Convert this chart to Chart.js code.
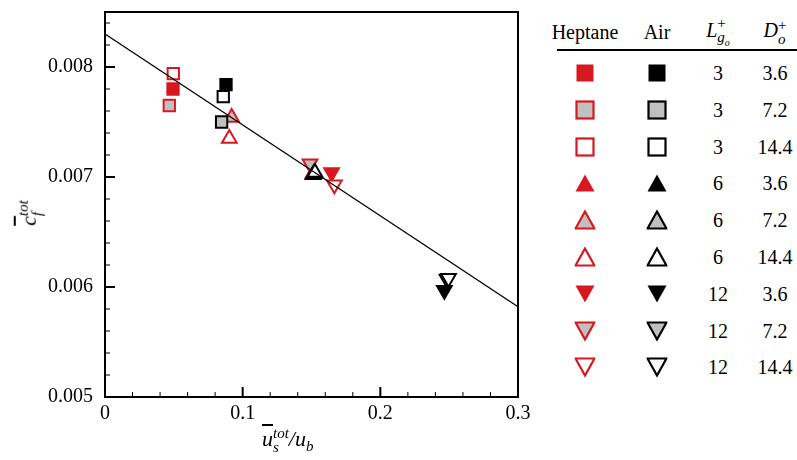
<!DOCTYPE html>
<html>
<head>
<meta charset="utf-8">
<script src="https://cdn.jsdelivr.net/npm/chart.js@4.4.0/dist/chart.umd.min.js"></script>
<style>
  html, body { margin: 0; padding: 0; background: #fff; }
  body { width: 797px; height: 460px; position: relative; overflow: hidden;
         font-family: "Liberation Serif", "Times New Roman", Tinos, "DejaVu Serif", serif; color: #000; }
  #wrap { position: absolute; left: 0; top: 0; width: 540px; height: 460px; }
  .title { position: absolute; font-size: 22px; font-style: italic; white-space: nowrap; }
  .ov { text-decoration: overline; }
  .stack { display: inline-block; vertical-align: middle; line-height: 0.9; font-size: 15px; }
  .stack span { display: block; }
  .cell { position: absolute; transform: translate(-50%, -50%); font-size: 20px; white-space: nowrap; }
  #rule { position: absolute; left: 557px; top: 49px; width: 240px; height: 2px; background: #000; }
</style>
</head>
<body>
<div id="wrap"><canvas id="chart" width="540" height="460"></canvas></div>

<div class="title" style="left:262px; top:426px;">
  <span class="ov">u</span><span class="stack"><span>tot</span><span>s</span></span>/u<sub style="font-size:15px">b</sub>
</div>
<div class="title" style="left:30px; top:213px; transform: translate(-50%,-50%) rotate(-90deg);">
  <span class="ov">c</span><span class="stack"><span>tot</span><span>f</span></span>
</div>

<div id="legend"></div>
<div id="rule"></div>

<script>
// plot data
const heptaneX = [0.0494, 0.0467, 0.0496, 0.151, 0.092, 0.0903, 0.1646, 0.1489, 0.1666];
const heptaneY = [0.00780, 0.00765, 0.00794, 0.00703, 0.00754, 0.00735, 0.00704, 0.00712, 0.00693];
const airX = [0.0879, 0.0847, 0.0859, 0.1512, 0.1518, 0.1525, 0.2465, 0.2485, 0.2495];
const airY = [0.00784, 0.00750, 0.00773, 0.00702, 0.00703, 0.00704, 0.00597, 0.00607, 0.00608];
const fitX = [0, 0.3];
const fitY = [0.0083, 0.00582];

// marker table
const lgoVals = ["3", "3", "3", "6", "6", "6", "12", "12", "12"];
const doVals = ["3.6", "7.2", "14.4", "3.6", "7.2", "14.4", "3.6", "7.2", "14.4"];
const shapes = ["rect", "rect", "rect", "up", "up", "up", "down", "down", "down"];
const fills = ["solid", "gray", "open", "solid", "gray", "open", "solid", "gray", "open"];

const xTicks = [0, 0.1, 0.2, 0.3];
const yTicks = [0.005, 0.006, 0.007, 0.008];
const xLabels = ["0", "0.1", "0.2", "0.3"];
const yLabels = ["0.005", "0.006", "0.007", "0.008"];

const RED = "#d7191f";
const GRAY = "#c0c0c0";
const SERIF = "'Liberation Serif', 'Times New Roman', Tinos, 'DejaVu Serif', serif";

function fillFor(kind, col) {
    if (kind === "solid") return col;
    if (kind === "gray") return GRAY;
    return "#ffffff";
}

function pts(xs, ys) {
    return xs.map((x, i) => ({ x, y: ys[i] }));
}

function markerDataset(label, xs, ys, col, order) {
    return {
        label,
        type: "scatter",
        data: pts(xs, ys),
        order,
        pointStyle: shapes.map((s) => (s === "rect" ? "rect" : "triangle")),
        rotation: shapes.map((s) => (s === "down" ? 180 : 0)),
        radius: shapes.map((s) => (s === "rect" ? 8 : 8.5)),
        pointBackgroundColor: fills.map((f) => fillFor(f, col)),
        pointBorderColor: col,
        pointBorderWidth: 2,
        pointHoverRadius: 8.5,
    };
}

// frame + inward ticks
const framePlugin = {
    id: "frame",
    afterDatasetsDraw(chart) {
        const { ctx, chartArea: a, scales } = chart;
        ctx.save();
        ctx.strokeStyle = "#000";
        const xs = scales.x, ys = scales.y;
        for (let i = 0; i <= 15; i++) {
            const px = xs.getPixelForValue(i * 0.02);
            const major = i % 5 === 0;
            ctx.lineWidth = major ? 2 : 1;
            ctx.beginPath();
            ctx.moveTo(px, a.bottom);
            ctx.lineTo(px, a.bottom - (major ? 10 : 5));
            ctx.stroke();
        }
        for (let i = 0; i <= 17; i++) {
            const py = ys.getPixelForValue(0.005 + i * 0.0002);
            const major = i % 5 === 0;
            ctx.lineWidth = major ? 2 : 1;
            ctx.beginPath();
            ctx.moveTo(a.left, py);
            ctx.lineTo(a.left + (major ? 10 : 5), py);
            ctx.stroke();
        }
        ctx.lineWidth = 2;
        ctx.strokeRect(a.left, a.top, a.right - a.left, a.bottom - a.top);
        ctx.restore();
    },
};

const ctx = document.getElementById("chart").getContext("2d");
new Chart(ctx, {
    data: {
        datasets: [
            markerDataset("Air", airX, airY, "#000000", 1),
            markerDataset("Heptane", heptaneX, heptaneY, RED, 2),
            {
                label: "fit",
                type: "line",
                data: pts(fitX, fitY),
                borderColor: "#000",
                borderWidth: 1.3,
                pointRadius: 0,
                fill: false,
                order: 0,
            },
        ],
    },
    options: {
        responsive: false,
        animation: false,
        layout: { padding: { top: 12, right: 22, left: 0, bottom: 0 } },
        plugins: { legend: { display: false }, tooltip: { enabled: false } },
        scales: {
            x: {
                type: "linear",
                min: 0,
                max: 0.3,
                afterBuildTicks: (s) => { s.ticks = xTicks.map((v) => ({ value: v })); },
                afterFit: (s) => { s.height = 63; s.paddingLeft = 0; s.paddingRight = 0; },
                grid: { display: false, drawTicks: false },
                border: { display: false },
                ticks: {
                    color: "#000",
                    padding: 5,
                    maxRotation: 0,
                    font: { family: SERIF, size: 20 },
                    callback: (v) => xLabels[xTicks.indexOf(v)] ?? "",
                },
            },
            y: {
                type: "linear",
                min: 0.005,
                max: 0.0085,
                afterBuildTicks: (s) => { s.ticks = yTicks.map((v) => ({ value: v })); },
                afterFit: (s) => { s.width = 105; s.paddingTop = 0; s.paddingBottom = 0; },
                grid: { display: false, drawTicks: false },
                border: { display: false },
                ticks: {
                    color: "#000",
                    padding: 12,
                    font: { family: SERIF, size: 20 },
                    callback: (v) => {
                        const i = yTicks.findIndex((t) => Math.abs(t - v) < 1e-9);
                        return i >= 0 ? yLabels[i] : "";
                    },
                },
            },
        },
    },
    plugins: [framePlugin],
});

// legend table
function markerSvg(shape, kind, col) {
    const f = fillFor(kind, col);
    const sw = kind === "solid" ? 0 : 2.2;
    let body;
    if (shape === "rect") {
        body = `<rect x="2" y="2" width="17" height="17" fill="${f}" stroke="${col}" stroke-width="${sw}"/>`;
    } else if (shape === "up") {
        body = `<polygon points="10.5,2 20,19 1,19" fill="${f}" stroke="${col}" stroke-width="${sw}"/>`;
    } else {
        body = `<polygon points="1,2 20,2 10.5,19" fill="${f}" stroke="${col}" stroke-width="${sw}"/>`;
    }
    return `<svg width="21" height="21" viewBox="0 0 21 21">${body}</svg>`;
}

const leg = document.getElementById("legend");
const colX = [585, 657, 718, 775];
const rowY0 = 73, rowDy = 36.8;
let html = "";
html += `<div class="cell" style="left:${colX[0]}px;top:32px">Heptane</div>`;
html += `<div class="cell" style="left:${colX[1]}px;top:32px">Air</div>`;
html += `<div class="cell" style="left:${colX[2]}px;top:32px"><i>L</i><span class="stack"><span>+</span><span style="font-style:italic">g<sub style="font-size:10px">o</sub></span></span></div>`;
html += `<div class="cell" style="left:${colX[3]}px;top:32px"><i>D</i><span class="stack"><span>+</span><span style="font-style:italic">o</span></span></div>`;
for (let i = 0; i < lgoVals.length; i++) {
    const y = rowY0 + i * rowDy;
    html += `<div class="cell" style="left:${colX[0]}px;top:${y}px;line-height:0">${markerSvg(shapes[i], fills[i], RED)}</div>`;
    html += `<div class="cell" style="left:${colX[1]}px;top:${y}px;line-height:0">${markerSvg(shapes[i], fills[i], "#000")}</div>`;
    html += `<div class="cell" style="left:${colX[2]}px;top:${y}px">${lgoVals[i]}</div>`;
    html += `<div class="cell" style="left:${colX[3]}px;top:${y}px">${doVals[i]}</div>`;
}
leg.innerHTML = html;
</script>
</body>
</html>
